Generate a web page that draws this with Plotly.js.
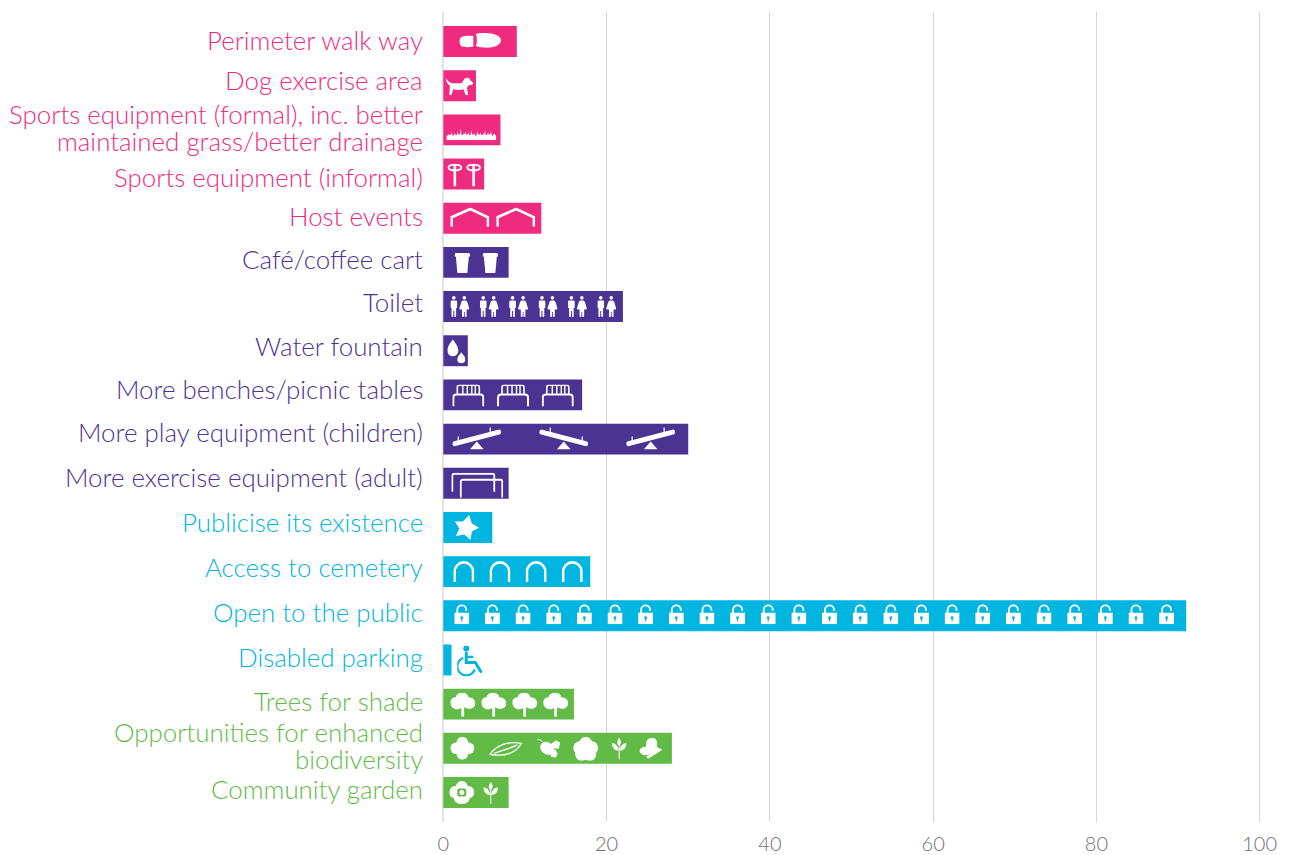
<!DOCTYPE html>
<html><head><meta charset="utf-8">
<script src="https://cdn.plot.ly/plotly-3.0.1.min.js"></script>
<style>html,body{margin:0;padding:0;background:#fff}</style></head>
<body><div id="chart" style="width:1292px;height:855px"></div>
<script>
// ---- data ----
const categories = ["Perimeter walk way","Dog exercise area","Sports equipment (formal), inc. better<br>maintained grass/better drainage","Sports equipment (informal)","Host events","Café/coffee cart","Toilet","Water fountain","More benches/picnic tables","More play equipment (children)","More exercise equipment (adult)","Publicise its existence","Access to cemetery","Open to the public","Disabled parking","Trees for shade","Opportunities for enhanced<br>biodiversity","Community garden"];
const values = [9,4,7,5,12,8,22,3,17,30,8,6,18,91,1,16,28,8];
const groups = ["pink","pink","pink","pink","pink","purple","purple","purple","purple","purple","purple","blue","blue","blue","blue","green","green","green"];
const palette = {pink:"#EF2B80",purple:"#4B3393",blue:"#00B5DF",green:"#62BB46"};
const tickValues = [0,20,40,60,80,100];

// ---- layout constants ----
const ZERO_PX = 443.1, PX_PER_UNIT = 8.17, PX_PER_ROW = 44.18;
const labelOffsets = [-1.5,-5.5,-2,2.5,-2.5,-3.5,-4.5,-4.5,-5.5,-7.5,-6.5,-5.5,-4.5,-3.5,-2.5,-3.5,-3,-3.5];

// ---- pictogram drawings (white unless noted) ----
const W="#fff";
const grassPeaks=[4,6,5,8,4,7,5,9,6,12,5,7,9,6,8,5,10,6,7,4,9,6,8,5,7,10,5,8,6,9,4,7,5];
const grassPath=()=>{let d="M0 12V7";grassPeaks.forEach((h,i)=>{const s=50/grassPeaks.length;d+=`L${(i+.5)*s} ${12-h}L${(i+1)*s} 6.5`;});return d+"V12Z";};
const sprout=`<path d="M7.5 22V8" stroke="${W}" stroke-width="1"/><path d="M7.5 0C10 3 10 6 7.5 8.5C5 6 5 3 7.5 0ZM0 5.5C3.500 5 6.500 8 7 13C3 13 .5 10 0 5.5ZM15 5.500C11.500 5 8.500 8 8 13C12 13 14.500 10 15 5.500Z" fill="${W}"/>`;
const icons={
 shoe:[42,15,`<path d="M14 3V13.500C9 14.500 4 14.500 2 13C-.5 11 -.5 5.500 2 4C5 2.700 10 2.500 14 3ZM16.500 1C22 -.5 32 -.5 38 2.500C43 5 43 9.500 38 12.500C32 15.500 23 15 16.500 13C18 9.500 18 5 16.500 1Z" fill="${W}"/>`],
 dog:[28,18,`<path d="M0 0C1 3 4 5 6.500 6H16.500L18.500 2.500C20 0 23 0 24.500 2C25 3.500 27 4.500 28 6C27 8 25 8 23.500 8L21.500 10.500L23 18H20.500L18 12C15 13 11 13 8 12L6 18H4L4.500 8.500C2 7 .5 3.500 0 0Z" fill="${W}"/>`],
 grass:[50,12,`<path d="${grassPath()}" fill="${W}"/>`],
 lolli:[15,23,`<ellipse cx="7.500" cy="4" rx="6.500" ry="3" fill="none" stroke="${W}" stroke-width="1.800"/><path d="M7.500 1V23" stroke="${W}" stroke-width="2.600"/>`],
 tent:[39,19,`<path d="M1.300 19V9.500L20 1.300L37.700 9.500V19" fill="none" stroke="${W}" stroke-width="2.600"/>`],
 cup:[16,20,`<path d="M1 0H15L16 3.500H14.500L13 20H3L1.500 3.500H0Z" fill="${W}"/>`],
 toilet:[19,21,`<circle cx="3.500" cy="1.800" r="1.800" fill="${W}"/><path d="M1.200 4.500H5.800Q6.800 4.500 6.800 5.500V12H5.800V20Q5.800 21 4.900 21Q4 21 4 20V15H3V20Q3 21 2.100 21Q1.200 21 1.200 20V12H.2V5.500Q.2 4.500 1.200 4.500Z" fill="${W}"/><circle cx="14" cy="1.800" r="1.800" fill="${W}"/><path d="M12.500 4.500H15.500Q16.500 4.500 17 6L19 12.500Q19 13.500 18 13.500H16.300V20Q16.300 21 15.300 21Q14.400 21 14.400 20V16H13.600V20Q13.600 21 12.700 21Q11.700 21 11.700 20V13.500H10Q9 13.500 9 12.500L11 6Q11.500 4.500 12.500 4.500Z" fill="${W}"/>`],
 drop:[18,24,`<path d="M5.500 0C8 4 11 7 11 11.500A5.500 5.500 0 0 1 0 11.500C0 7 3 4 5.500 0Z" fill="${W}"/><path d="M14 13C15.500 15.500 18 17 18 20A4 4 0 0 1 10 20C10 17 12.500 15.500 14 13Z" fill="${W}"/>`],
 bench:[32,22,`<path d="M1 22V13Q1 10 4 10H28Q31 10 31 13V22" fill="none" stroke="${W}" stroke-width="2"/><path d="M5 10V2.500Q5 .8 7 .8H25Q27 .8 27 2.500V10" fill="none" stroke="${W}" stroke-width="1.600"/><path d="M10.500 1V10M15 1V10M19.500 1V10M23 1V10" stroke="${W}" stroke-width="1.400"/>`],
 seesawUp:[49,23,`<path d="M2.500 17L46.500 5.500" stroke="${W}" stroke-width="5" stroke-linecap="round"/><path d="M6 15V10M38 7V1" stroke="${W}" stroke-width="1.200"/><path d="M24.500 15L31.500 23H17.500Z" fill="${W}"/>`],
 seesawDown:[49,23,`<path d="M2.500 5.500L46.500 17" stroke="${W}" stroke-width="5" stroke-linecap="round"/><path d="M11 7V1M43 15V10" stroke="${W}" stroke-width="1.200"/><path d="M24.500 15L31.500 23H17.500Z" fill="${W}"/>`],
 exercise:[52,25,`<path d="M1 19V3Q1 1 3 1H41Q43 1 43 3V19M9.500 25V9Q9.500 7 11.500 7H49.500Q51 7 51 9V25" fill="none" stroke="${W}" stroke-width="1.800"/>`],
 star:[25,25,`<path d="M14.300 0L17 8.500L24.300 12.700L17 16.500L15.700 25L9.500 19.500L1 21L4.500 13.500L0 6.500L8 6.500Z" fill="${W}"/>`],
 arch:[21,21,`<path d="M1.300 21V10.500A9.200 9.200 0 0 1 19.700 10.500V21" fill="none" stroke="${W}" stroke-width="2.600"/>`],
 lock:[15,20,`<path d="M3 9V5.500A4.500 4.500 0 0 1 12 5.500V6.500" fill="none" stroke="${W}" stroke-width="1.900"/><path fill-rule="evenodd" d="M0 8.500H15V20H0ZM7.500 12A1.400 1.400 0 0 0 6.900 14.700V17H8.100V14.700A1.400 1.400 0 0 0 7.500 12Z" fill="${W}"/>`],
 wheelchair:[26,31,`<circle cx="9" cy="3" r="3" fill="#00B5DF"/><path d="M9 7.500V17H18L23.500 26" fill="none" stroke="#00B5DF" stroke-width="3" stroke-linecap="round"/><path d="M9.500 11.500H16" stroke="#00B5DF" stroke-width="2.200"/><path d="M6 12.500A9 9 0 1 0 17.500 24" fill="none" stroke="#00B5DF" stroke-width="2.200"/>`],
 tree:[25,24,`<path d="M12 0C15.500 0 18 2 18 4.500C21.500 4.500 25 6.500 25 10.500C25 14.500 21 17 17.500 16C16.500 15.800 15 15 13.800 14.500V24H11V15C9 16.500 6 17 4 16C1 14.500 0 12 0 9.500C0 6.500 2.500 4.500 5.500 4.500C5.500 2 8.500 0 12 0Z" fill="${W}"/>`],
 clover:[24,23,`<circle cx="12" cy="5.800" r="5.800" fill="${W}"/><circle cx="12" cy="17.200" r="5.800" fill="${W}"/><circle cx="5.800" cy="11.500" r="5.800" fill="${W}"/><circle cx="18.200" cy="11.500" r="5.800" fill="${W}"/>`],
 leaf:[33,15,`<path d="M.8 12.500C7 3 20 -1 32 1.500C28 10 17 15.500 .8 12.500ZM5 11.500C12 9 20 7 28 3" fill="none" stroke="${W}" stroke-width="1.300"/>`],
 bee:[23,19,`<path d="M0 1C2 0 4 1 5 3" fill="none" stroke="${W}" stroke-width="1"/><ellipse cx="10" cy="9.500" rx="7.500" ry="6" transform="rotate(35 10 9.500)" fill="${W}"/><path d="M14 5L19 1.500L23 4L21.500 10L15.500 9.500ZM12.500 14L18 10.500L20.500 15L18.500 19L14 18Z" fill="${W}"/>`],
 flower:[25,24,`<circle cx="12.500" cy="6.500" r="6.500" fill="${W}"/><circle cx="6.500" cy="11" r="6.500" fill="${W}"/><circle cx="18.500" cy="11" r="6.500" fill="${W}"/><circle cx="8.500" cy="17.500" r="6.500" fill="${W}"/><circle cx="16.500" cy="17.500" r="6.500" fill="${W}"/>`],
 sprout:[15,22,sprout],
 butterfly:[23,21,`<path d="M7 9C6 3 9 0 13 0C17 0 19 4 17.500 9L23 12L9 21L7 19L11.500 16C8 18 3 18 1 15C-1 12 2 9 7 9Z" fill="${W}"/>`],
 ringflower:[25,23,`<path fill-rule="evenodd" d="M12.500 0C16 0 18 2.500 18.200 5C21.500 4.500 25 7 25 11.500C25 15 22.500 16.500 20.500 17C20 21 16.500 23 12.500 23C8.500 23 5 21 4.500 17C2.500 16.500 0 15 0 11.500C0 7 3.500 4.500 6.800 5C7 2.500 9 0 12.500 0ZM9.500 7.500Q8 8 8 9.500V13.500Q8 15 9.500 15.500H15.500Q17 15 17 13.500V9.500Q17 8 15.500 7.500Z" fill="${W}"/><circle cx="12.500" cy="11.500" r="2.500" fill="${W}"/>`]
};
// [row, icon, first centre on the value axis, step, count, vertical nudge in px]
const placements=[
 [0,"shoe",4.53,0,1,-1],[1,"dog",1.96,0,1,.5],[2,"grass",3.43,0,1,4.5],[3,"lolli",1.41,2.3,2,1],
 [4,"tent",3.24,5.63,2,-1],[5,"cup",2.33,3.43,2,.5],[6,"toilet",2.02,3.6,6,0],[7,"drop",1.59,0,1,.5],
 [8,"bench",3.06,5.48,3,.5],[9,"seesawUp",4.1,21.3,2,-1],[9,"seesawDown",14.75,0,1,-1],[10,"exercise",4.16,0,1,2],
 [11,"star",2.94,0,1,0],[12,"arch",2.51,4.43,4,0],[13,"lock",2.26,3.754,24,-1.5],[14,"wheelchair",3.3,0,1,1],
 [15,"tree",2.39,3.79,4,.5],[16,"clover",2.33,0,1,0],[16,"leaf",7.65,0,1,1],[16,"bee",12.91,0,1,0],[16,"flower",17.44,0,1,.5],
 [16,"sprout",21.54,0,1,.5],[16,"butterfly",25.4,0,1,0],[17,"ringflower",2.26,0,1,0],[17,"sprout",5.81,0,1,.5]
];
const images=[];
placements.forEach(([row,name,x0,step,count,dy])=>{
 const [w,h,body]=icons[name];
 const svg=`<svg xmlns="http://www.w3.org/2000/svg" width="${w*4}" height="${h*4}" viewBox="0 0 ${w} ${h}">${body}</svg>`;
 for(let i=0;i<count;i++) images.push({source:"data:image/svg+xml;charset=utf-8,"+encodeURIComponent(svg),xref:"x",yref:"y",
   x:x0+i*step,y:row+dy/PX_PER_ROW,sizex:w/PX_PER_UNIT,sizey:h/PX_PER_ROW,xanchor:"center",yanchor:"middle",sizing:"stretch",layer:"above"});
});

const FONT="Lato, sans-serif";
const annotations=[];
categories.forEach((c,i)=>{
 const lines=c.split("<br>");
 lines.forEach((t,k)=>annotations.push({xref:"x",yref:"y",x:0,y:i,text:t,showarrow:false,xanchor:"right",yanchor:"middle",xshift:-18,
   yshift:-(labelOffsets[i]+(k-(lines.length-1)/2)*27),align:"right",font:{family:FONT,size:25.9,weight:300,color:palette[groups[i]]}}));
});

const xMin=-2,xMax=102;
Plotly.newPlot("chart",[{type:"bar",orientation:"h",y:categories,x:values,width:0.7,marker:{color:groups.map(g=>palette[g]),line:{width:0}},hoverinfo:"x+y"}],{
 width:1292,height:855,paper_bgcolor:"#fff",plot_bgcolor:"#fff",showlegend:false,
 margin:{l:ZERO_PX+xMin*PX_PER_UNIT,r:1292-(ZERO_PX+xMax*PX_PER_UNIT),t:12,b:33,pad:0},
 xaxis:{range:[xMin,xMax],tickvals:tickValues,ticktext:tickValues.map(String),showgrid:true,gridcolor:"#d6d6d6",gridwidth:1,zeroline:true,zerolinecolor:"#e2e2e2",zerolinewidth:2,
   showline:false,ticks:"outside",ticklen:4,tickcolor:"rgba(0,0,0,0)",tickfont:{family:FONT,size:20,weight:300,color:"#707070"}},
 yaxis:{type:"category",categoryorder:"array",categoryarray:categories,range:[categories.length-1+0.668,-0.668],showticklabels:false,showgrid:false,zeroline:false,showline:false,ticks:""},
 images,annotations
},{displayModeBar:false,staticPlot:true});
</script></body></html>
